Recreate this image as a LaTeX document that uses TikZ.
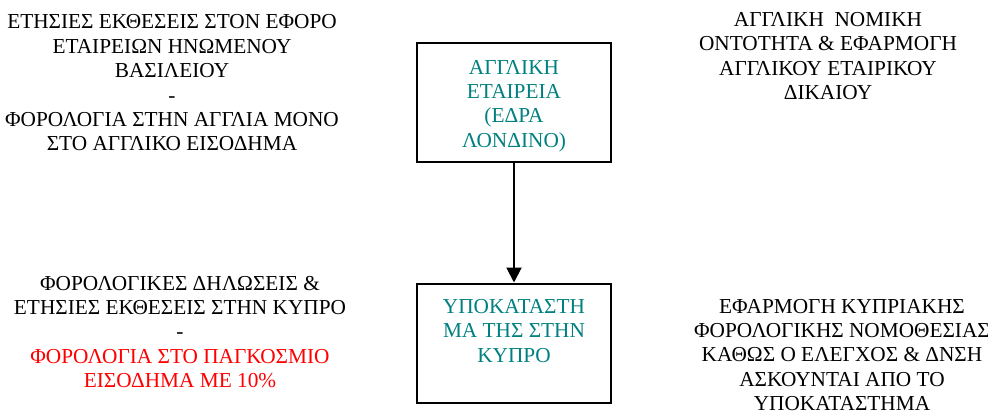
\documentclass[tikz,border=0pt]{standalone}
\usepackage{fontspec}
\setmainfont{Liberation Serif}
\usetikzlibrary{arrows.meta}
\definecolor{tealtext}{RGB}{0,128,128}
\definecolor{redtext}{RGB}{255,0,0}
\tikzset{
  txt/.style={align=center, inner sep=0pt, font=\fontsize{21.3pt}{24.4pt}\selectfont},
  box/.style={draw=black, line width=2pt, minimum width=194pt, minimum height=119pt, inner sep=0pt},
  boxtxt/.style={txt, text=tealtext},
  conn/.style={line width=2pt, -{Triangle[width=15pt,length=15pt]}}
}
\begin{document}
\begin{tikzpicture}[x=1pt,y=1pt]
\useasboundingbox (0,0) rectangle (988,-413);
\node[box] (uk) at (514,-102.5) {};
\node[box] (cy) at (514,-343) {};
\node[boxtxt] (uktxt) at (514,-106) {ΑΓΓΛΙΚΗ\\ΕΤΑΙΡΕΙΑ\\(ΕΔΡΑ\\ΛΟΝΔΙΝΟ)};
\node[boxtxt] (cytxt) at (514,-331) {ΥΠΟΚΑΤΑΣΤΗ\\ΜΑ ΤΗΣ ΣΤΗΝ\\ΚΥΠΡΟ};
\draw[conn] (uk.south) -- (cy.north);
\node[txt] (lt) at (172,-83) {ΕΤΗΣΙΕΣ ΕΚΘΕΣΕΙΣ ΣΤΟΝ ΕΦΟΡΟ\\ΕΤΑΙΡΕΙΩΝ ΗΝΩΜΕΝΟΥ\\ΒΑΣΙΛΕΙΟΥ\\-\\ΦΟΡΟΛΟΓΙΑ ΣΤΗΝ ΑΓΓΛΙΑ ΜΟΝΟ\\ΣΤΟ ΑΓΓΛΙΚΟ ΕΙΣΟΔΗΜΑ};
\node[txt] (lb) at (180,-332) {ΦΟΡΟΛΟΓΙΚΕΣ ΔΗΛΩΣΕΙΣ \&\\ΕΤΗΣΙΕΣ ΕΚΘΕΣΕΙΣ ΣΤΗΝ ΚΥΠΡΟ\\-\\\textcolor{redtext}{ΦΟΡΟΛΟΓΙΑ ΣΤΟ ΠΑΓΚΟΣΜΙΟ}\\\textcolor{redtext}{ΕΙΣΟΔΗΜΑ ΜΕ 10\%}};
\node[txt] (rt) at (828,-56) {ΑΓΓΛΙΚΗ\ \ ΝΟΜΙΚΗ\\ΟΝΤΟΤΗΤΑ \& ΕΦΑΡΜΟΓΗ\\ΑΓΓΛΙΚΟΥ ΕΤΑΙΡΙΚΟΥ\\ΔΙΚΑΙΟΥ};
\node[txt] (rb) at (842,-355) {ΕΦΑΡΜΟΓΗ ΚΥΠΡΙΑΚΗΣ\\ΦΟΡΟΛΟΓΙΚΗΣ ΝΟΜΟΘΕΣΙΑΣ\\ΚΑΘΩΣ Ο ΕΛΕΓΧΟΣ \& ΔΝΣΗ\\ΑΣΚΟΥΝΤΑΙ ΑΠΟ ΤΟ\\ΥΠΟΚΑΤΑΣΤΗΜΑ};
\end{tikzpicture}
\end{document}
